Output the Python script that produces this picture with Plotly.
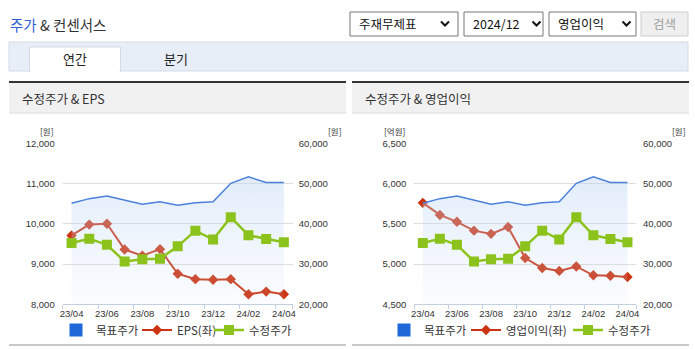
import plotly.graph_objects as go

months = ["23/04", "23/05", "23/06", "23/07", "23/08", "23/09", "23/10",
          "23/11", "23/12", "24/01", "24/02", "24/03", "24/04"]
target_price = [45100, 46250, 46900, 45900, 44850, 45500, 44600,
                45250, 45500, 50050, 51650, 50250, 50250]
adj_price = [35250, 36300, 34800, 30650, 31200, 31300, 34400,
             38300, 36100, 41650, 37150, 36250, 35400]
eps = [9710, 9980, 10000, 9360, 9210, 9370, 8760,
       8625, 8610, 8625, 8250, 8315, 8250]
op_income = [5760, 5610, 5525, 5415, 5375, 5460, 5075,
             4950, 4915, 4970, 4860, 4855, 4840]

left_ticks = [8000, 9000, 10000, 11000, 12000]
eps_range = [8000, 12000]
op_ticks = [4500, 5000, 5500, 6000, 6500]
op_range = [4500, 6500]
price_ticks = [20000, 30000, 40000, 50000, 60000]
price_range = [20000, 60000]

W, H = 695, 349
def px(x):
    return x / W
def py(y):
    return 1 - y / H

idx = list(range(len(months)))

BLUE_LINE = "#4a80dc"
RED = "#cc3311"
GREEN = "#8cc21c"
LEG_BLUE = "#2068d8"
FONT_KR = "Noto Sans CJK KR"
TICKFONT = dict(family="Liberation Sans", size=9.5, color="#333333")
LEGFONT = dict(family=FONT_KR, size=11.5, color="#333333")

fig = go.Figure()

def add_chart(xa, ya_left, ya_right, left_vals, left_name, legs):
    fig.add_trace(go.Scatter(
        x=idx, y=target_price, mode="lines", xaxis=xa, yaxis=ya_right,
        line=dict(color=BLUE_LINE, width=1.5), fill="tozeroy",
        fillgradient=dict(type="vertical",
                          colorscale=[[0, "rgba(200,220,245,0.08)"], [1, "rgba(190,214,244,0.45)"]],
                          start=price_range[0], stop=max(target_price)),
        showlegend=False, hoverinfo="skip"))
    fig.add_trace(go.Scatter(
        x=[None], y=[None], mode="markers", xaxis=xa, yaxis=ya_right,
        marker=dict(symbol="square", size=13, color=LEG_BLUE),
        name="목표주가", legend=legs[0]))
    fig.add_trace(go.Scatter(
        x=idx, y=left_vals, mode="lines+markers", xaxis=xa, yaxis=ya_left,
        line=dict(color=RED, width=2), marker=dict(symbol="diamond", size=8, color=RED),
        name=left_name, legend=legs[1]))
    fig.add_trace(go.Scatter(
        x=idx, y=adj_price, mode="lines+markers", xaxis=xa, yaxis=ya_right,
        line=dict(color=GREEN, width=2.5), marker=dict(symbol="square", size=10, color=GREEN),
        name="수정주가", legend=legs[2]))

add_chart("x", "y", "y2", eps, "EPS(좌)", ["legend", "legend2", "legend3"])
add_chart("x2", "y3", "y4", op_income, "영업이익(좌)", ["legend4", "legend5", "legend6"])

xcommon = dict(range=[-0.5, len(months) - 0.5], tickvals=idx[::2], ticktext=months[::2],
               showgrid=False, zeroline=False, showline=True, linecolor="#c3cfe0",
               linewidth=1, ticks="", tickfont=TICKFONT, ticklabelstandoff=0,
               minor=dict(ticks="outside", ticklen=4, tickcolor="#c3cfe0",
                          tickvals=[i - 0.5 for i in idx[::2]] + [len(months) - 0.5]),
               fixedrange=True, automargin=False)

def leg(x0):
    return dict(orientation="h", x=px(x0), y=py(330), xanchor="left", yanchor="middle",
                font=LEGFONT, itemwidth=30, bgcolor="rgba(0,0,0,0)", borderwidth=0)

fig.update_layout(
    width=W, height=H, autosize=False,
    margin=dict(l=0, r=0, t=0, b=0, pad=0, autoexpand=False),
    paper_bgcolor="white", plot_bgcolor="rgba(0,0,0,0)",
    font=dict(family=FONT_KR, color="#333333"),
    xaxis=dict(domain=[px(62.7), px(292.7)], anchor="y", **xcommon),
    yaxis=dict(domain=[py(304.3), py(143.3)], range=eps_range, tickvals=left_ticks,
               tickformat=",", showgrid=True, gridcolor="#dedede", zeroline=False,
               showline=False, tickfont=TICKFONT, ticks="", ticklabelstandoff=7,
               anchor="x", automargin=False),
    yaxis2=dict(range=price_range, tickvals=price_ticks, tickformat=",", overlaying="y",
                side="right", showgrid=False, zeroline=False, showline=False,
                tickfont=TICKFONT, ticks="", ticklabelstandoff=5, anchor="x", automargin=False),
    xaxis2=dict(domain=[px(414.3), px(636)], anchor="y3", **xcommon),
    yaxis3=dict(domain=[py(304.3), py(143.3)], range=op_range, tickvals=op_ticks,
                tickformat=",", showgrid=True, gridcolor="#dedede", zeroline=False,
                showline=False, tickfont=TICKFONT, ticks="", ticklabelstandoff=7,
                anchor="x2", automargin=False),
    yaxis4=dict(range=price_range, tickvals=price_ticks, tickformat=",", overlaying="y3",
                side="right", showgrid=False, zeroline=False, showline=False,
                tickfont=TICKFONT, ticks="", ticklabelstandoff=6, anchor="x2", automargin=False),
    legend=leg(56), legend2=leg(137), legend3=leg(209),
    legend4=leg(384), legend5=leg(466), legend6=leg(568),
)

shapes = []
annotations = []

def rect(x0, y0, x1, y1, fill, line=None, lw=1):
    shapes.append(dict(type="rect", xref="paper", yref="paper",
                       x0=px(x0), x1=px(x1), y0=py(y1), y1=py(y0),
                       fillcolor=fill, line=dict(color=line or "rgba(0,0,0,0)", width=lw if line else 0),
                       layer="below"))

def text(x, y, s, size=13, color="#333333", xanchor="left", family=FONT_KR):
    annotations.append(dict(xref="paper", yref="paper", x=px(x), y=py(y), text=s,
                            showarrow=False, xanchor=xanchor, yanchor="middle",
                            font=dict(family=family, size=size, color=color)))

text(8, 25, "<span style='color:#2f5fd0'>주가</span> & 컨센서스", size=14.5, color="#333333")

for (x0, x1, label, cx) in [(350, 458, "주재무제표", 445), (464, 543, "2024/12", 536.5),
                            (549, 636, "영업이익", 626.5)]:
    shapes.append(dict(type="rect", xref="paper", yref="paper", x0=px(x0), x1=px(x1),
                       y0=py(36), y1=py(12), fillcolor="white",
                       line=dict(color="#767676", width=1)))
    text(x0 + 7, 24, label, size=12.5, color="#111111")
    shapes.append(dict(type="path", xref="paper", yref="paper",
                       path=f"M {px(cx-4)},{py(21.5)} L {px(cx)},{py(25.5)} L {px(cx+4)},{py(21.5)}",
                       line=dict(color="#111111", width=2)))
shapes.append(dict(type="rect", xref="paper", yref="paper", x0=px(641), x1=px(688),
                   y0=py(36), y1=py(12), fillcolor="#efefef",
                   line=dict(color="#cccccc", width=1)))
text(664.5, 24, "검색", size=12.5, color="#a0a0a0", xanchor="center")

rect(9, 42, 688, 71, "#e8eef8", "#d3dbe6")
rect(29.5, 47, 120.5, 71.5, "#ffffff", "#d3dbe6")
rect(30.5, 70, 119.5, 72, "#ffffff")
text(75, 58.5, "연간", size=13, color="#222222", xanchor="center")
text(176, 58.5, "분기", size=13, color="#222222", xanchor="center")

for (x0, x1, title) in [(9, 346, "수정주가 & EPS"), (352, 689, "수정주가 & 영업이익")]:
    rect(x0, 83, x1, 113, "#f1f1f1")
    rect(x0, 112.5, x1, 113.5, "#dcdcdc")
    rect(x0, 81, x1, 83, "#333333")
    rect(x0, 344, x1, 346, "#c8c8c8")
    text(x0 + 11, 98, title, size=12.5, color="#333333")

text(47, 131, "[원]", size=8.5, color="#333333", xanchor="center")
text(335, 131, "[원]", size=8.5, color="#333333", xanchor="center")
text(394, 131, "[억원]", size=8.5, color="#333333", xanchor="center")
text(679, 131, "[원]", size=8.5, color="#333333", xanchor="center")

fig.update_layout(shapes=shapes, annotations=annotations)

fig.write_html("out.html")
